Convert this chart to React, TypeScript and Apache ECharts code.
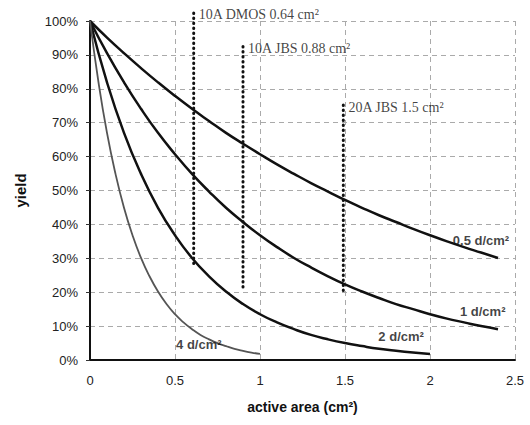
import React, { useEffect, useRef } from "react";
import * as echarts from "echarts";

const xStep01 = [0, 0.1, 0.2, 0.3, 0.4, 0.5, 0.6, 0.7, 0.8, 0.9, 1.0, 1.1, 1.2, 1.3, 1.4, 1.5, 1.6, 1.7, 1.8, 1.9, 2.0, 2.1, 2.2, 2.3, 2.4];
const xStep005 = [0, 0.05, 0.1, 0.15, 0.2, 0.25, 0.3, 0.35, 0.4, 0.45, 0.5, 0.55, 0.6, 0.65, 0.7, 0.75, 0.8, 0.85, 0.9, 0.95, 1.0];

const yield05 = [1, 0.951, 0.905, 0.861, 0.819, 0.779, 0.741, 0.705, 0.67, 0.638, 0.607, 0.577, 0.549, 0.522, 0.497, 0.472, 0.449, 0.427, 0.407, 0.387, 0.368, 0.35, 0.333, 0.317, 0.301];
const yield1 = [1, 0.905, 0.819, 0.741, 0.67, 0.607, 0.549, 0.497, 0.449, 0.407, 0.368, 0.333, 0.301, 0.273, 0.247, 0.223, 0.202, 0.183, 0.165, 0.15, 0.135, 0.122, 0.111, 0.1, 0.091];
const yield2 = [1, 0.819, 0.67, 0.549, 0.449, 0.368, 0.301, 0.247, 0.202, 0.165, 0.135, 0.111, 0.091, 0.074, 0.061, 0.05, 0.041, 0.033, 0.027, 0.022, 0.018];
const yield4 = [1, 0.819, 0.67, 0.549, 0.449, 0.368, 0.301, 0.247, 0.202, 0.165, 0.135, 0.111, 0.091, 0.074, 0.061, 0.05, 0.041, 0.033, 0.027, 0.022, 0.018];

// vertical dotted device markers: [x, yBottom, yTop]
const deviceMarkers = [
  [0.61, 0.285, 1.03],
  [0.9, 0.215, 0.925],
  [1.49, 0.205, 0.755],
];
const deviceLabels = [
  { text: "10A DMOS 0.64 cm²", x: 0.64, y: 1.02 },
  { text: "10A JBS 0.88 cm²", x: 0.93, y: 0.918 },
  { text: "20A JBS 1.5 cm²", x: 1.52, y: 0.745 },
];
const curveLabels = [
  { text: "0.5 d/cm²", x: 2.3, y: 0.353 },
  { text: "1 d/cm²", x: 2.31, y: 0.144 },
  { text: "2 d/cm²", x: 1.83, y: 0.068 },
  { text: "4 d/cm²", x: 0.64, y: 0.046 },
];

const xTicks = [0, 0.5, 1, 1.5, 2, 2.5];

const zip = (xs: number[], ys: number[]) => ys.map((y, i) => [xs[i], y]);

export default function App() {
  const ref = useRef<HTMLDivElement>(null);
  useEffect(() => {
    if (!ref.current) return;
    const chart = echarts.init(ref.current, null, { renderer: "svg" });
    const curveStyle = (color: string, width: number) => ({
      type: "line" as const,
      showSymbol: false,
      smooth: true,
      lineStyle: { color, width },
      z: 3,
    });
    const gridLine = { show: true, lineStyle: { color: "#aaa", type: [5, 4], width: 1 } };
    chart.setOption({
      animation: false,
      backgroundColor: "#fff",
      grid: { left: 90, right: 15, top: 21, bottom: 65 },
      xAxis: {
        type: "value",
        min: 0,
        max: 2.5,
        interval: 0.5,
        name: "active area (cm²)",
        nameLocation: "middle",
        nameGap: 40,
        nameTextStyle: { fontFamily: "Liberation Sans", fontWeight: "bold", fontSize: 14, color: "#111" },
        axisLine: { show: true, onZero: false, lineStyle: { color: "#111", width: 2 } },
        axisTick: { show: false },
        axisLabel: {
          fontFamily: "Liberation Sans",
          fontSize: 13,
          color: "#222",
          margin: 14,
          formatter: (v: number) => (xTicks.includes(v) ? String(v) : ""),
        },
        splitLine: gridLine,
      },
      yAxis: {
        type: "value",
        min: 0,
        max: 1,
        interval: 0.1,
        name: "yield",
        nameLocation: "middle",
        nameGap: 62,
        nameTextStyle: { fontFamily: "Liberation Sans", fontWeight: "bold", fontSize: 15, color: "#111" },
        axisLine: { show: true, lineStyle: { color: "#111", width: 2 } },
        axisTick: { show: true, length: 4, lineStyle: { color: "#333" } },
        axisLabel: {
          fontFamily: "Liberation Sans",
          fontSize: 13,
          color: "#222",
          margin: 12,
          formatter: (v: number) => Math.round(v * 100) + "%",
        },
        splitLine: gridLine,
      },
      series: [
        { ...curveStyle("#111", 2.5), data: zip(xStep01, yield05) },
        { ...curveStyle("#111", 2.5), data: zip(xStep01, yield1) },
        { ...curveStyle("#111", 2.5), data: zip(xStep01, yield2) },
        { ...curveStyle("#555", 1.8), data: zip(xStep005, yield4) },
        ...deviceMarkers.map((m) => ({
          type: "line",
          showSymbol: false,
          clip: false,
          z: 4,
          lineStyle: { color: "#111", width: 3, type: [0.5, 4.5], cap: "round" },
          data: [
            [m[0], m[1]],
            [m[0], m[2]],
          ],
        })),
        {
          type: "scatter",
          symbolSize: 0,
          clip: false,
          z: 5,
          data: deviceLabels.map((d) => ({ value: [d.x, d.y], name: d.text })),
          label: {
            show: true,
            position: "right",
            distance: 0,
            formatter: (p: any) => p.name,
            fontFamily: "Liberation Serif",
            fontSize: 14,
            color: "#111",
          },
        },
        {
          type: "scatter",
          symbolSize: 0,
          clip: false,
          z: 5,
          data: curveLabels.map((d) => ({ value: [d.x, d.y], name: d.text })),
          label: {
            show: true,
            position: "inside",
            formatter: (p: any) => p.name,
            fontFamily: "Liberation Sans",
            fontWeight: "bold",
            fontSize: 13,
            color: "#111",
          },
        },
      ],
    });
    return () => chart.dispose();
  }, []);
  return <div ref={ref} style={{ width: 530, height: 425, position: "absolute", left: 0, top: 0 }} />;
}
